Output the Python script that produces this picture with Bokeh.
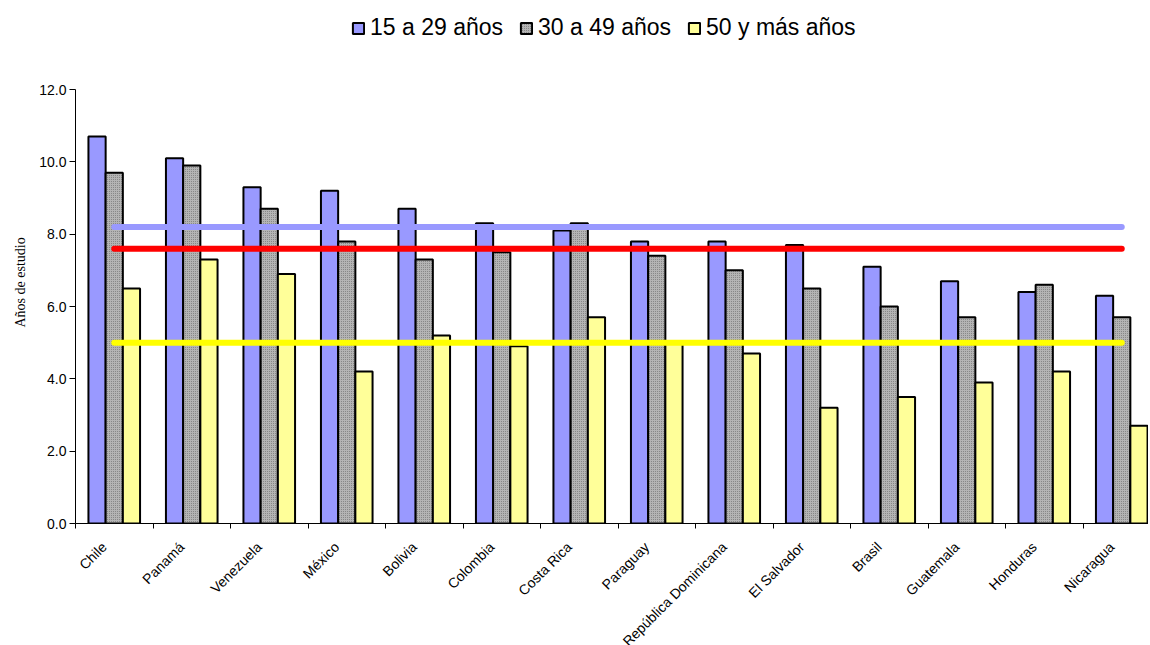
from bokeh.plotting import figure
from bokeh.models import (Range1d, FixedTicker, Legend, LegendItem, ColumnDataSource,
                          NumeralTickFormatter, Title)
from bokeh.embed import file_html
from bokeh.resources import INLINE
import math

paises = ["Chile", "Panamá", "Venezuela", "México", "Bolivia", "Colombia", "Costa Rica",
          "Paraguay", "República Dominicana", "El Salvador", "Brasil", "Guatemala",
          "Honduras", "Nicaragua"]
edad_15_29 = [10.7, 10.1, 9.3, 9.2, 8.7, 8.3, 8.1, 7.8, 7.8, 7.7, 7.1, 6.7, 6.4, 6.3]
edad_30_49 = [9.7, 9.9, 8.7, 7.8, 7.3, 7.5, 8.3, 7.4, 7.0, 6.5, 6.0, 5.7, 6.6, 5.7]
edad_50_mas = [6.5, 7.3, 6.9, 4.2, 5.2, 4.9, 5.7, 5.0, 4.7, 3.2, 3.5, 3.9, 4.2, 2.7]
promedio_15_29 = 8.2
promedio_total = 7.6
promedio_50_mas = 5.0
series_labels = ["15 a 29 años", "30 a 49 años", "50 y más años"]
y_ticks = [0, 2, 4, 6, 8, 10, 12]
y_title = "Años de estudio"

n = len(paises)
centers = [i + 0.5 for i in range(n)]
bw = 0.222

src = ColumnDataSource(dict(
    x1=[c - bw for c in centers], x2=centers, x3=[c + bw for c in centers],
    a=edad_15_29, b=edad_30_49, c=edad_50_mas))

FONT = "Liberation Sans"

FRAME_W = 1073
FRAME_H = 523          # frame extends up to the top of the page; the axis stops at 12
PX_PER_CAT = 77.5
PX_PER_UNIT = 434 / 12.0
LABEL_SHIFT = 0.13     # category labels sit slightly left of the group centre

p = figure(frame_width=FRAME_W, frame_height=FRAME_H, output_backend="svg", toolbar_location=None,
           x_range=Range1d(0, FRAME_W / PX_PER_CAT), y_range=Range1d(0, FRAME_H / PX_PER_UNIT),
           min_border_left=75, min_border_top=0, min_border_right=0, min_border_bottom=10)
p.outline_line_color = None
p.xgrid.visible = False
p.ygrid.visible = False
p.background_fill_color = "white"

r1 = p.vbar(x="x1", top="a", width=bw, bottom=0, source=src, fill_color="#9999FF",
            line_color="black", line_width=2)
r2 = p.vbar(x="x2", top="b", width=bw, bottom=0, source=src, fill_color="#B4B4B4",
            hatch_pattern="dot", hatch_scale=2, hatch_color="#7A7A7A", hatch_weight=1,
            line_color="black", line_width=2)
r3 = p.vbar(x="x3", top="c", width=bw, bottom=0, source=src, fill_color="#FFFF99",
            line_color="black", line_width=2)

p.line(x=[centers[0], centers[-1]], y=[promedio_15_29, promedio_15_29], line_color="#9999FF",
       line_width=6, line_cap="round")
p.line(x=[centers[0], centers[-1]], y=[promedio_total, promedio_total], line_color="#FF0000",
       line_width=6, line_cap="round")
p.line(x=[centers[0], centers[-1]], y=[promedio_50_mas, promedio_50_mas], line_color="#FFFF00",
       line_width=6, line_cap="round")

# y axis
p.yaxis.bounds = (y_ticks[0], y_ticks[-1])
p.yaxis.ticker = FixedTicker(ticks=y_ticks)
p.yaxis.formatter = NumeralTickFormatter(format="0.0")
p.yaxis.major_tick_out = 6
p.yaxis.major_tick_in = 0
p.yaxis.minor_tick_out = 0
p.yaxis.minor_tick_in = 0
p.yaxis.major_label_standoff = 3
p.yaxis.major_label_text_font = FONT
p.yaxis.major_label_text_font_size = "14px"
p.yaxis.major_label_text_color = "black"
p.yaxis.axis_line_color = "black"

yt = Title(text=y_title, align="left", offset=196, standoff=18,
           text_font="Liberation Serif", text_font_style="normal",
           text_font_size="14px", text_color="black")
p.add_layout(yt, "left")

# x axis: labels at centers, tick marks at boundaries (minor)
label_pos = [c - LABEL_SHIFT for c in centers]
p.xaxis.ticker = FixedTicker(ticks=label_pos, minor_ticks=list(range(n + 1)))
p.xaxis.major_label_overrides = {c: paises[i] for i, c in enumerate(label_pos)}
p.xaxis.major_tick_out = 0
p.xaxis.major_tick_in = 0
p.xaxis.minor_tick_out = 5
p.xaxis.minor_tick_in = 0
p.xaxis.minor_tick_line_color = "black"
p.xaxis.major_label_orientation = math.pi / 4
p.xaxis.major_label_standoff = 16
p.xaxis.major_label_text_font = FONT
p.xaxis.major_label_text_font_size = "14px"
p.xaxis.major_label_text_color = "black"
p.xaxis.axis_line_color = "black"

legend = Legend(items=[LegendItem(label=series_labels[0], renderers=[r1]),
                       LegendItem(label=series_labels[1], renderers=[r2]),
                       LegendItem(label=series_labels[2], renderers=[r3])],
                orientation="horizontal", location=(276, 482),
                label_text_font=FONT, label_text_font_size="23px", label_text_color="black",
                glyph_width=14, glyph_height=14, label_standoff=5, spacing=16,
                padding=0, margin=0, border_line_color=None, background_fill_alpha=0)
p.add_layout(legend, "center")

open("out.html", "w").write(file_html(p, INLINE))
